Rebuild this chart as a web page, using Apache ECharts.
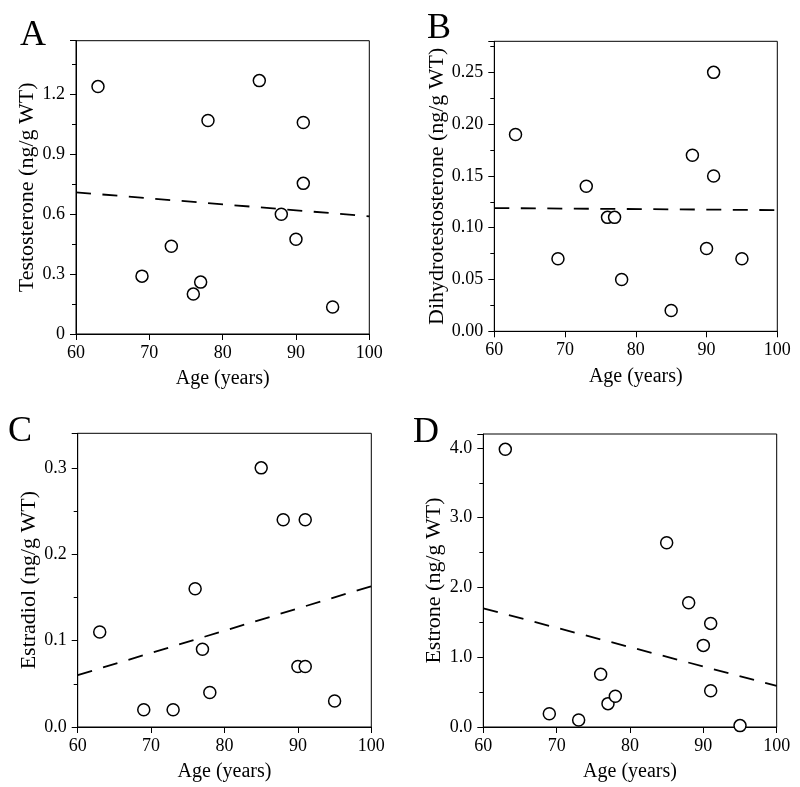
<!DOCTYPE html>
<html>
<head>
<meta charset="utf-8">
<script src="https://cdn.jsdelivr.net/npm/echarts@6/dist/echarts.min.js"></script>
<style>html,body{margin:0;padding:0;background:#fff}#c{width:800px;height:787px}</style>
</head>
<body>
<div id="c"></div>
<script>
// Ages (shared)
var ages = [63, 69, 73, 76, 77, 78, 85, 88, 90, 91, 91, 95];
// Panel A: Testosterone
var testosterone = [1.24, 0.29, 0.44, 0.20, 0.26, 1.07, 1.27, 0.60, 0.475, 1.06, 0.755, 0.135];
var testTrend = [[60, 0.71], [100, 0.59]];
// Panel B: Dihydrotestosterone (ages order: 63,69,73,76,77,78,85,88,90,91,91,95)
var dht = [0.19, 0.07, 0.14, 0.11, 0.11, 0.05, 0.02, 0.17, 0.08, 0.25, 0.15, 0.07];
var dhtTrend = [[60, 0.119], [100, 0.117]];
// Panel C: Estradiol
var estradiol = [0.11, 0.02, 0.02, 0.16, 0.09, 0.04, 0.30, 0.24, 0.07, 0.24, 0.07, 0.03];
var estradiolAges = [63, 69, 73, 76, 77, 78, 85, 88, 90, 91, 91, 95];
var estradiolTrend = [[60, 0.060], [100, 0.163]];
// Panel D: Estrone
var estrone = [3.98, 0.19, 0.10, 0.755, 0.335, 0.44, 2.64, 1.78, 1.17, 1.485, 0.52, 0.02];
var estroneTrend = [[60, 1.70], [100, 0.59]];

var panelLetters = ['A', 'B', 'C', 'D'];
var yTitles = ['Testosterone (ng/g WT)', 'Dihydrotestosterone (ng/g WT)', 'Estradiol (ng/g WT)', 'Estrone (ng/g WT)'];
var xTitle = 'Age (years)';

var FONT = 'Liberation Serif';
function pairs(xs, ys) { return xs.map(function (x, i) { return [x, ys[i]]; }); }

var grids = [
  {left: 76, top: 40.7, width: 293.3, height: 293.3},
  {left: 494.3, top: 41.3, width: 283, height: 290},
  {left: 77.7, top: 433.3, width: 293.6, height: 293.7},
  {left: 483.3, top: 434, width: 293.4, height: 293}
];
var yConf = [
  {max: 1.47, interval: 0.3, fmt: function (v) { return v === 0 ? '0' : v.toFixed(1); }, gap: 36},
  {max: 0.28, interval: 0.05, fmt: function (v) { return v.toFixed(2); }, gap: 46},
  {max: 0.34, interval: 0.1, fmt: function (v) { return v.toFixed(1); }, gap: 37},
  {max: 4.2, interval: 1.0, fmt: function (v) { return v.toFixed(1); }, gap: 38}
];
var scatterData = [pairs(ages, testosterone), pairs(ages, dht), pairs(estradiolAges, estradiol), pairs(ages, estrone)];
var trendData = [testTrend, dhtTrend, estradiolTrend, estroneTrend];

var option = {
  animation: false,
  backgroundColor: '#fff',
  textStyle: {fontFamily: FONT, color: '#000'},
  grid: grids.map(function (g) {
    return {left: g.left, top: g.top, width: g.width, height: g.height, show: true, borderColor: '#000', borderWidth: 1, backgroundColor: 'transparent', containLabel: false};
  }),
  xAxis: grids.map(function (g, i) {
    return {
      type: 'value', gridIndex: i, min: 60, max: 100, interval: 10,
      name: xTitle, nameLocation: 'middle', nameGap: 35,
      nameTextStyle: {fontFamily: FONT, fontSize: 20, color: '#000'},
      axisLine: {show: true, onZero: false, lineStyle: {color: '#000', width: 1}},
      axisTick: {show: true, inside: false, length: 6, lineStyle: {color: '#000'}},
      axisLabel: {fontFamily: FONT, fontSize: 18, color: '#000', margin: 10},
      splitLine: {show: false}
    };
  }),
  yAxis: yConf.map(function (c, i) {
    return {
      type: 'value', gridIndex: i, min: 0, max: c.max, interval: c.interval,
      name: yTitles[i], nameLocation: 'middle', nameGap: c.gap, nameRotate: 90,
      nameTextStyle: {fontFamily: FONT, fontSize: 22, color: '#000'},
      axisLine: {show: true, onZero: false, lineStyle: {color: '#000', width: 1}},
      axisTick: {show: true, inside: false, length: 6, lineStyle: {color: '#000'}},
      minorTick: {show: true, splitNumber: 2, length: 4, lineStyle: {color: '#000'}},
      axisLabel: {fontFamily: FONT, fontSize: 18, color: '#000', margin: 11, showMaxLabel: false, formatter: c.fmt},
      splitLine: {show: false}, minorSplitLine: {show: false}
    };
  }),
  series: [],
  graphic: panelLetters.map(function (L, i) {
    var pos = [[20, 35.5], [427, 28.5], [8, 431.5], [413, 433]][i];
    return {type: 'text', x: pos[0], y: pos[1], style: {text: L, font: '36px "Liberation Serif"', fill: '#000', textVerticalAlign: 'middle', verticalAlign: 'middle'}};
  })
};
for (var i = 0; i < 4; i++) {
  option.series.push({
    type: 'line', xAxisIndex: i, yAxisIndex: i, data: trendData[i], symbol: 'none',
    lineStyle: {color: '#000', width: 1.8, type: [15, 11.5]}, z: 1
  });
  option.series.push({
    type: 'scatter', xAxisIndex: i, yAxisIndex: i, data: scatterData[i], symbol: 'circle', symbolSize: 12,
    itemStyle: {color: '#fff', borderColor: '#000', borderWidth: 1.5, opacity: 1}, z: 2
  });
}
var chart = echarts.init(document.getElementById('c'), null, {renderer: 'canvas'});
chart.setOption(option);
</script>
</body>
</html>
